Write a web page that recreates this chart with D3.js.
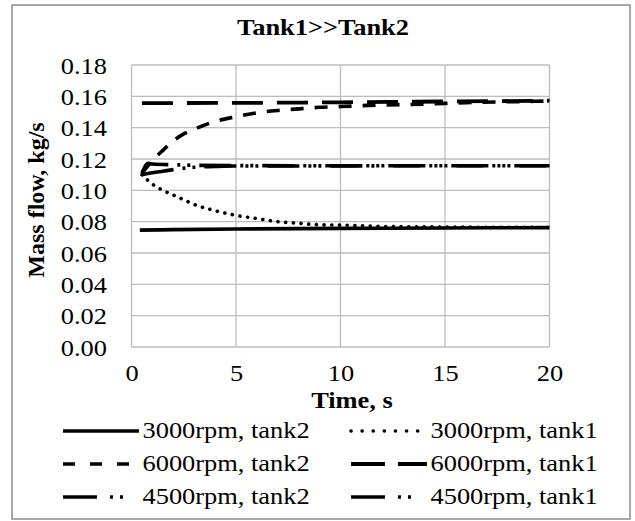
<!DOCTYPE html>
<html><head><meta charset="utf-8">
<script src="https://cdn.jsdelivr.net/npm/d3@7"></script>
<style>body{margin:0;background:#fff}svg{display:block}</style>
</head><body>
<svg id="c" width="635" height="521"></svg>
<script>
const title = "Tank1>>Tank2";
const xTitle = "Time, s";
const yTitle = "Mass flow, kg/s";
const xTicks = [0, 5, 10, 15, 20];
const yTicks = [0, 0.02, 0.04, 0.06, 0.08, 0.10, 0.12, 0.14, 0.16, 0.18];
const seriesNames = ["3000rpm, tank2", "3000rpm, tank1", "6000rpm, tank2", "6000rpm, tank1", "4500rpm, tank2", "4500rpm, tank1"];

const t3000tank2 = [0.4, 2, 5, 10, 15, 20];
const v3000tank2 = [0.0746, 0.0749, 0.0753, 0.0757, 0.0760, 0.0762];
const t3000tank1 = [0.5, 1, 1.5, 2, 2.5, 3, 4, 5, 6, 7, 8, 9, 10, 12, 14, 16, 18, 20];
const v3000tank1 = [0.110, 0.104, 0.100, 0.097, 0.094, 0.091, 0.087, 0.084, 0.082, 0.080, 0.079, 0.078, 0.0778, 0.0770, 0.0767, 0.0765, 0.0764, 0.0763];
const t6000tank2 = [0.5, 1, 1.5, 2, 2.5, 3, 4, 5, 6, 7, 8, 9, 10, 12, 14, 16, 18, 20];
const v6000tank2 = [0.111, 0.119, 0.1255, 0.1315, 0.136, 0.139, 0.144, 0.147, 0.1495, 0.151, 0.152, 0.153, 0.1535, 0.1545, 0.155, 0.156, 0.1565, 0.157];
const t6000tank1 = [0.5, 5, 10, 15, 20];
const v6000tank1 = [0.1557, 0.1558, 0.1562, 0.1567, 0.1572];
const t4500tank2 = [0.5, 1, 1.5, 2, 2.5, 3, 4, 5, 10, 15, 20];
const v4500tank2 = [0.110, 0.1112, 0.1122, 0.1132, 0.1141, 0.1147, 0.1152, 0.1155, 0.1156, 0.1157, 0.1157];
const t4500tank1 = [0.5, 0.8, 1, 2, 3, 5, 10, 15, 20];
const v4500tank1 = [0.111, 0.1172, 0.1168, 0.1163, 0.1160, 0.1158, 0.1157, 0.1157, 0.1157];

const times = [t3000tank2, t3000tank1, t6000tank2, t6000tank1, t4500tank2, t4500tank1];
const values = [v3000tank2, v3000tank1, v6000tank2, v6000tank1, v4500tank2, v4500tank1];

const styles = [
  {dash: null, cap: "butt", w: 3.6, legendDash: null},
  {dash: "0.1,7.6", cap: "round", w: 3.6, legendDash: "0.1,11"},
  {dash: "13,11", cap: "butt", w: 3.6, legendDash: "12,15"},
  {dash: "31,14", cap: "butt", w: 3.8, legendDash: "34,13"},
  {dash: "32,9,3,7,3,9", cap: "butt", w: 3.6, legendDash: "34,13,3,7,3,20"},
  {dash: "32,9,3,7,3,9", cap: "butt", w: 3.6, legendDash: "34,13,3,7,3,20"}
];

const SX = 1.1;
const FS = 24;
const FF = '"Liberation Serif"';
const svg = d3.select("#c");
const L = 131.5, R = 549.5, T = 65, B = 347;
const x = d3.scaleLinear().domain([0, 20]).range([L, R]);
const y = d3.scaleLinear().domain([0, 0.18]).range([B, T]);

svg.append("rect").attr("x", 12).attr("y", 5).attr("width", 618).attr("height", 514)
  .attr("fill", "none").attr("stroke", "#8c8c8c").attr("stroke-width", 1.5);

function stretch(sel) {
  sel.each(function() {
    const len = this.getComputedTextLength();
    d3.select(this).attr("textLength", (len * SX).toFixed(1)).attr("lengthAdjust", "spacingAndGlyphs");
  });
}
function fontize(sel, bold) {
  return sel.style("font-family", FF).style("font-size", FS + "px")
    .style("font-weight", bold ? "bold" : "normal").style("fill", "#000");
}
function txt(str, px, py, anchor, bold) {
  const t = svg.append("text").text(str).attr("x", px).attr("y", py).attr("text-anchor", anchor);
  fontize(t, bold);
  stretch(t);
  return t;
}

// grid
const g = svg.append("g");
g.selectAll("line.h").data(yTicks).join("line").attr("class", "h")
  .attr("x1", L).attr("x2", R).attr("y1", d => y(d)).attr("y2", d => y(d))
  .attr("stroke", "#bdbdbd").attr("stroke-width", 1.3);
g.selectAll("line.v").data(xTicks).join("line").attr("class", "v")
  .attr("y1", T).attr("y2", B).attr("x1", d => x(d)).attr("x2", d => x(d))
  .attr("stroke", "#bdbdbd").attr("stroke-width", 1.3);

// axes
const xa = svg.append("g").attr("transform", `translate(0,${B})`)
  .call(d3.axisBottom(x).tickValues(xTicks).tickSize(0).tickFormat(d3.format("d")));
xa.attr("font-family", null).attr("font-size", null);
xa.select(".domain").remove();
const xt = xa.selectAll("text").attr("y", 34).attr("dy", null).attr("x", 0);
fontize(xt, false); stretch(xt);

const ya = svg.append("g").attr("transform", `translate(${L},0)`)
  .call(d3.axisLeft(y).tickValues(yTicks).tickSize(0).tickFormat(d3.format(".2f")));
ya.attr("font-family", null).attr("font-size", null);
ya.select(".domain").remove();
const yt = ya.selectAll("text").attr("x", -24.5).attr("y", 8).attr("dy", null).attr("text-anchor", "end");
fontize(yt, false); stretch(yt);

txt(title, 323, 35, "middle", true);
txt(xTitle, 352, 408, "middle", true);
const yl = svg.append("text").text(yTitle)
  .attr("transform", "translate(44,200) rotate(-90)")
  .attr("text-anchor", "middle");
fontize(yl, true);

// series
const line = d3.line().x(d => x(d[0])).y(d => y(d[1])).curve(d3.curveMonotoneX);
const plot = svg.append("g");
const drawOrder = [0, 1, 3, 2, 5, 4];
drawOrder.forEach(i => {
  const pts = times[i].map((t, k) => [t, values[i][k]]);
  plot.append("path").attr("d", line(pts)).attr("fill", "none")
    .attr("stroke", "#000").attr("stroke-width", styles[i].w)
    .attr("stroke-linecap", styles[i].cap)
    .attr("stroke-dasharray", styles[i].dash);
});

// legend
const colX = [63, 351], colTX = [142.5, 430.5];
const rowY = [438, 471, 504];
seriesNames.forEach((name, i) => {
  const c = i % 2, r = Math.floor(i / 2);
  svg.append("line").attr("x1", colX[c]).attr("x2", colX[c] + 76)
    .attr("y1", rowY[r] - 7).attr("y2", rowY[r] - 7)
    .attr("stroke", "#000").attr("stroke-width", styles[i].w)
    .attr("stroke-linecap", styles[i].cap)
    .attr("stroke-dasharray", styles[i].legendDash);
  txt(name, colTX[c], rowY[r], "start", false);
});
</script>
</body></html>
